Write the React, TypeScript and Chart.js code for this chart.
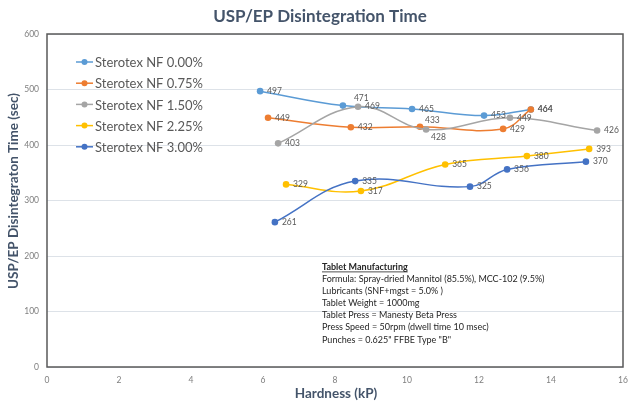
import React, { useEffect, useRef } from "react";
import { Chart, registerables } from "chart.js";
Chart.register(...registerables);

const chartTitle = "USP/EP Disintegration Time";
const xTitle = "Hardness (kP)";
const yTitle = "USP/EP Disintegraton Time (sec)";

const seriesNames = [
  "Sterotex NF 0.00%",
  "Sterotex NF 0.75%",
  "Sterotex NF 1.50%",
  "Sterotex NF 2.25%",
  "Sterotex NF 3.00%",
];
const seriesColors = ["#5B9BD5", "#ED7D31", "#A5A5A5", "#FFC000", "#4472C4"];

const hardness000 = [5.92, 8.22, 10.14, 12.14, 13.44];
const time000 = [497, 471, 465, 453, 464];
const hardness075 = [6.14, 8.44, 10.36, 12.67, 13.44];
const time075 = [449, 432, 433, 429, 464];
const hardness150 = [6.42, 8.64, 10.53, 12.86, 15.28];
const time150 = [403, 469, 428, 449, 426];
const hardness225 = [6.64, 8.72, 11.06, 13.33, 15.06];
const time225 = [329, 317, 365, 380, 393];
const hardness300 = [6.33, 8.56, 11.75, 12.78, 14.97];
const time300 = [261, 335, 325, 356, 370];

const hardnessSeries = [hardness000, hardness075, hardness150, hardness225, hardness300];
const timeSeries = [time000, time075, time150, time225, time300];

const xMin = 0, xMax = 16, xStep = 2;
const yMin = 0, yMax = 600, yStep = 100;

const noteTitle = "Tablet Manufacturing";
const noteLines = [
  "Formula: Spray-dried Mannitol (85.5%), MCC-102 (9.5%)",
  "Lubricants (SNF+mgst = 5.0% )",
  "Tablet Weight = 1000mg",
  "Tablet Press = Manesty Beta Press",
  "Press Speed = 50rpm (dwell time 10 msec)",
  'Punches = 0.625" FFBE Type "B"',
];

// label nudges (styling only): [series, point, dx, dy]
const labelNudges: [number, number, number, number][] = [
  [0, 1, 4, -7],
  [1, 2, -2, -6],
  [2, 2, -2, 8],
];

const FONT = "Lato, 'Open Sans', sans-serif";

export default function App() {
  const ref = useRef<HTMLCanvasElement | null>(null);
  useEffect(() => {
    document.body.style.margin = "0";
    const canvas = ref.current!;
    const overlay = {
      id: "overlay",
      afterDatasetsDraw(chart: any) {
        const ctx = chart.ctx;
        ctx.save();
        ctx.font = `8.5px ${FONT}`;
        ctx.fillStyle = "#595959";
        ctx.textBaseline = "middle";
        ctx.textAlign = "left";
        chart.data.datasets.forEach((ds: any, di: number) => {
          const meta = chart.getDatasetMeta(di);
          meta.data.forEach((pt: any, pi: number) => {
            let dx = 7, dy = 0;
            labelNudges.forEach(([s, p, nx, ny]) => {
              if (s === di && p === pi) { dx += nx; dy += ny; }
            });
            ctx.fillText(String(ds.data[pi].y), pt.x + dx, pt.y + dy);
          });
        });
        ctx.restore();
      },
      afterDraw(chart: any) {
        const ctx = chart.ctx;
        const a = chart.chartArea;
        ctx.save();
        // border
        ctx.strokeStyle = "#595959";
        ctx.lineWidth = 1.5;
        ctx.strokeRect(a.left, a.top, a.right - a.left, a.bottom - a.top);
        // title
        ctx.fillStyle = "#44546A";
        ctx.font = `bold 17px ${FONT}`;
        ctx.textAlign = "center";
        ctx.textBaseline = "middle";
        ctx.fillText(chartTitle, 320, 17);
        // x title
        ctx.font = `bold 13.5px ${FONT}`;
        ctx.fillText(xTitle, 336, 394);
        // y title
        ctx.save();
        ctx.translate(14, 191);
        ctx.rotate(-Math.PI / 2);
        ctx.fillText(yTitle, 0, 0);
        ctx.restore();
        // legend
        ctx.font = `13px ${FONT}`;
        ctx.textAlign = "left";
        seriesNames.forEach((name, i) => {
          const y = 62 + i * 21.2;
          ctx.strokeStyle = seriesColors[i];
          ctx.lineWidth = 1.5;
          ctx.beginPath();
          ctx.moveTo(76, y);
          ctx.lineTo(93, y);
          ctx.stroke();
          ctx.fillStyle = seriesColors[i];
          ctx.beginPath();
          ctx.arc(84.5, y, 3, 0, Math.PI * 2);
          ctx.fill();
          ctx.fillStyle = "#595959";
          ctx.fillText(name, 95, y + 1);
        });
        // note
        ctx.fillStyle = "#262626";
        ctx.font = `bold 9px ${FONT}`;
        ctx.textBaseline = "alphabetic";
        const nx = 322;
        ctx.fillText(noteTitle, nx, 270);
        const w = ctx.measureText(noteTitle).width;
        ctx.fillRect(nx, 271.5, w, 0.8);
        ctx.font = `9px ${FONT}`;
        noteLines.forEach((l, i) => ctx.fillText(l, nx, 282 + i * 12.1));
        ctx.restore();
      },
    };

    const chart = new Chart(canvas, {
      type: "line",
      data: {
        datasets: seriesNames.map((name, i) => ({
          label: name,
          data: hardnessSeries[i].map((x, j) => ({ x, y: timeSeries[i][j] })),
          borderColor: seriesColors[i],
          backgroundColor: seriesColors[i],
          borderWidth: 1.5,
          pointRadius: 3.3,
          pointBorderWidth: 0,
          tension: 0.4,
          fill: false,
          order: 5 - i,
        })),
      },
      options: {
        responsive: false,
        animation: false,
        layout: { padding: { top: 34, right: 0, left: 0, bottom: 0 } },
        plugins: { legend: { display: false }, title: { display: false }, tooltip: { enabled: false } },
        scales: {
          x: {
            type: "linear",
            min: xMin,
            max: xMax,
            ticks: { stepSize: xStep, color: "#7F7F7F", font: { family: FONT, size: 8.5 }, padding: 8, maxRotation: 0 },
            grid: { display: false, drawTicks: false },
            border: { display: false },
            afterFit: (s: any) => { s.height = 35; s.paddingRight = 5; },
          },
          y: {
            min: yMin,
            max: yMax,
            ticks: { stepSize: yStep, color: "#7F7F7F", font: { family: FONT, size: 8.5 }, padding: 8 },
            grid: { color: "#DDE2E8", lineWidth: 1, drawTicks: false },
            border: { display: false },
            afterFit: (s: any) => { s.width = 47; },
          },
        },
      },
      plugins: [overlay],
    } as any);
    return () => chart.destroy();
  }, []);
  return (
    <div style={{ width: 628, height: 402, background: "#fff" }}>
      <canvas ref={ref} width={628} height={402} style={{ display: "block" }} />
    </div>
  );
}
